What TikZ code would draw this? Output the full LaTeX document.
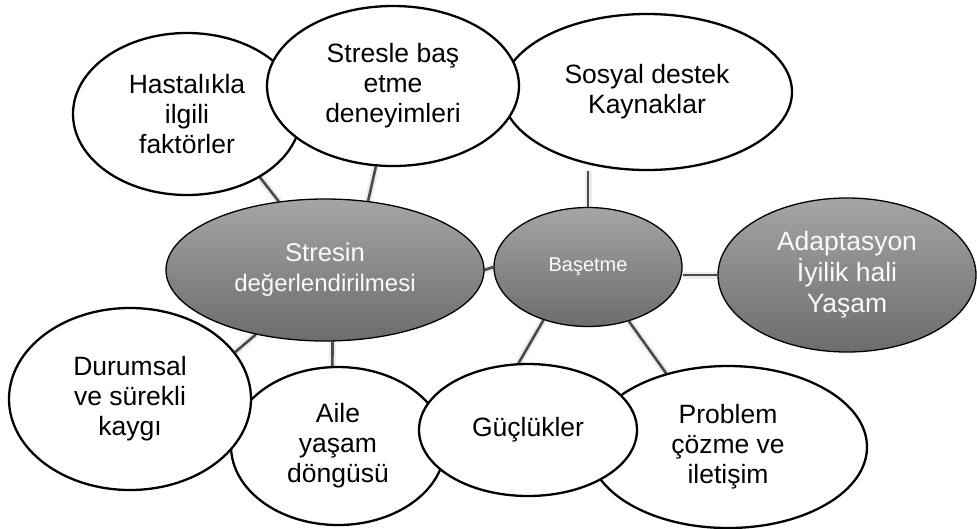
\documentclass[tikz,border=0pt]{standalone}
\usepackage{fontspec}
\setmainfont{Liberation Sans}
\usetikzlibrary{shapes.geometric,backgrounds}
\definecolor{dtop}{HTML}{A5A5A5}
\definecolor{dbot}{HTML}{6C6C6C}
\definecolor{conn}{HTML}{4A4A4A}
\begin{document}
\begin{tikzpicture}[x=1pt,y=-1pt,
  wnode/.style={ellipse,draw=black,line width=2.3pt,fill=white,inner sep=0pt,align=center,
    font=\fontsize{26.5}{30}\selectfont},
  gnode/.style={ellipse,draw=black,line width=1.3pt,top color=dtop,bottom color=dbot,
    inner sep=0pt,align=center,text=white!96!gray},
  link/.style={line width=2.6pt,draw=conn},
  halo/.style={line width=7pt,draw=gray!15}]
\useasboundingbox (0,0) rectangle (977,528);
% white ellipses (drawing order gives overlaps)
\node[wnode,minimum width=228pt,minimum height=162pt] (hast) at (187,114) {Hastalıkla\\ilgili\\faktörler};
\node[wnode,minimum width=290pt,minimum height=156pt] (sosyal) at (647,92) {Sosyal destek\\Kaynaklar};
\node[wnode,minimum width=252pt,minimum height=160pt] (stresle) at (393,86) {Stresle baş\\etme\\deneyimleri};
\node[wnode,minimum width=214pt,minimum height=158pt] (aile) at (338,446) {Aile\\yaşam\\döngüsü};
\node[wnode,minimum width=242pt,minimum height=182pt] (durum) at (130,399) {Durumsal\\ve sürekli\\kaygı};
\node[wnode,minimum width=278pt,minimum height=162pt] (prob) at (728,447) {Problem\\çözme ve\\iletişim};
\node[wnode,minimum width=218pt,minimum height=132pt] (guc) at (528,430) {Güçlükler};
% grey ellipses
\node[gnode,minimum width=318pt,minimum height=142pt,font=\fontsize{24}{30}\selectfont] (stresin) at (325,270)
  {{\fontsize{25.7}{30}\selectfont Stresin}\\değerlendirilmesi};
\node[gnode,minimum width=188pt,minimum height=119pt,font=\fontsize{20}{24}\selectfont] (baset) at (588,267) {Başetme};
\node[gnode,minimum width=258pt,minimum height=154pt,font=\fontsize{26.5}{31}\selectfont] (adapt) at (847,275)
  {Adaptasyon\\İyilik hali\\Yaşam};
% connectors
\begin{pgfonlayer}{background}
\foreach \a/\b in {hast.-41/stresin.124, stresle.-102/stresin.58, stresin.east/baset.west,
    baset.-130/guc.98.6, baset.-53/prob.130, stresin.-137/durum.24, stresin.-84/aile.94,
    baset.north/{baset.north |- sosyal.south}, adapt.west/{baset.east |- adapt.west}}{
  \draw[halo] (\a) -- (\b);
  \draw[link] (\a) -- (\b);
}
\end{pgfonlayer}
\end{tikzpicture}
\end{document}
